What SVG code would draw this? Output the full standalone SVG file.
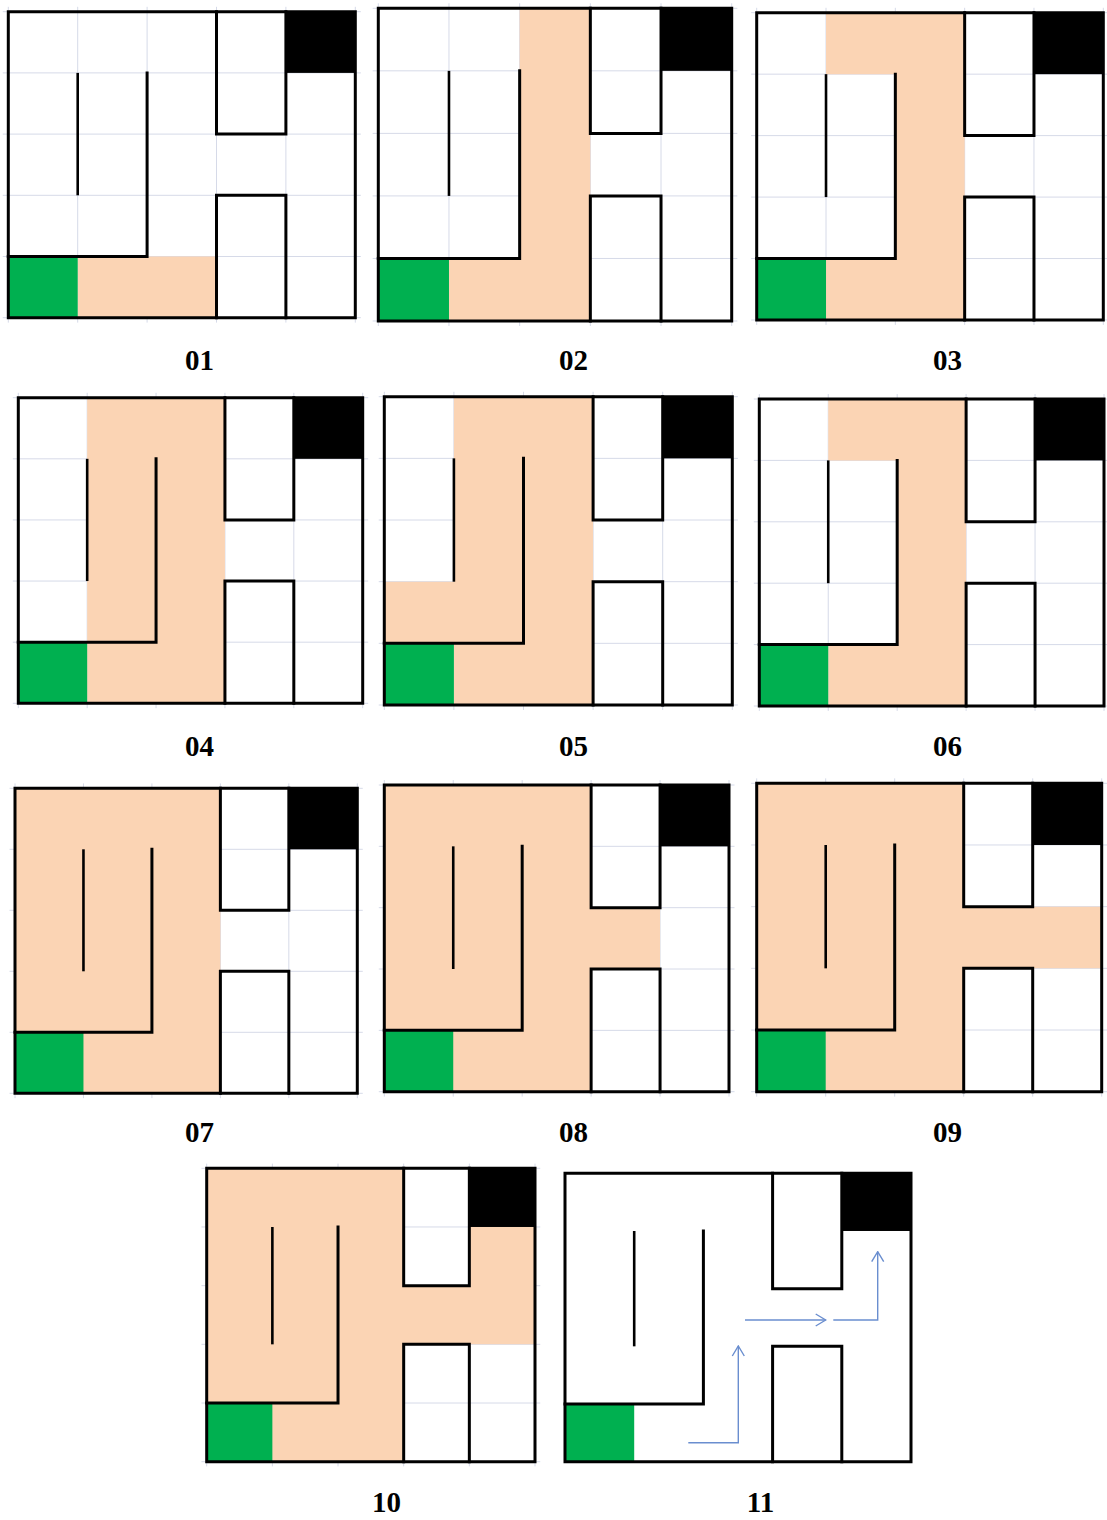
<svg xmlns="http://www.w3.org/2000/svg" xmlns:xlink="http://www.w3.org/1999/xlink" width="1107" height="1520" viewBox="0 0 1107 1520">
<style>
.grid line{stroke:#D6DAE8;stroke-width:1;vector-effect:non-scaling-stroke}
.wall{fill:none;stroke:#000;stroke-width:3;stroke-linejoin:miter;stroke-linecap:square;vector-effect:non-scaling-stroke}
.inner{fill:none;stroke:#000;stroke-width:2.6;stroke-linecap:butt;vector-effect:non-scaling-stroke}
.peach{fill:#FBD4B4}
.green{fill:#00B050}
.black{fill:#000}
.lbl{font-family:"Liberation Serif","Times New Roman",serif;font-weight:bold;font-size:29px;text-anchor:middle;fill:#000}
.arrow{fill:none;stroke:#6A8ECF;stroke-width:1.4;marker-end:url(#chev)}
</style>
<defs>
<marker id="chev" markerUnits="userSpaceOnUse" viewBox="0 0 12 14" refX="11" refY="7" markerWidth="12" markerHeight="14" orient="auto">
<path d="M1 1L11 7L1 13" fill="none" stroke="#6A8ECF" stroke-width="1.4"/>
</marker>
<g id="grid" class="grid">
<line x1="1" y1="-0.08" x2="1" y2="5.08"/><line x1="2" y1="-0.08" x2="2" y2="5.08"/><line x1="3" y1="-0.08" x2="3" y2="5.08"/><line x1="4" y1="-0.08" x2="4" y2="5.08"/>
<line x1="0" y1="-0.08" x2="0" y2="5.08"/><line x1="5" y1="-0.08" x2="5" y2="5.08"/>
<line x1="-0.08" y1="1" x2="5.08" y2="1"/><line x1="-0.08" y1="2" x2="5.08" y2="2"/><line x1="-0.08" y1="3" x2="5.08" y2="3"/><line x1="-0.08" y1="4" x2="5.08" y2="4"/>
<line x1="-0.08" y1="0" x2="5.08" y2="0"/><line x1="-0.08" y1="5" x2="5.08" y2="5"/>
</g>
<g id="cells">
<rect class="green" x="0" y="4" width="1" height="1"/>
<rect class="black" x="4" y="0" width="1" height="1"/>
</g>
<g id="walls">
<rect class="wall" x="0" y="0" width="5" height="5"/>
<path class="inner" d="M1 1V3"/>
<path class="wall" d="M2 1V4H0"/>
<path class="wall" d="M3 0V2H4V0"/>
<path class="wall" d="M3 5V3H4V5"/>
</g>
</defs>
<rect width="1107" height="1520" fill="#fff"/>

<g id="panel-01">
<g transform="translate(8.3 11.7) scale(69.4 61.2)">
<use xlink:href="#grid"/><path class="peach" d="M1 4H3V5H1Z"/><use xlink:href="#cells"/><use xlink:href="#walls"/>
</g>
<text class="lbl" x="199.5" y="369.5">01</text>
</g>

<g id="panel-02">
<g transform="translate(378.3 8.3) scale(70.68 62.54)">
<use xlink:href="#grid"/><path class="peach" d="M2 0H3V5H1V4H2Z"/><use xlink:href="#cells"/><use xlink:href="#walls"/>
</g>
<text class="lbl" x="573.5" y="369.5">02</text>
</g>

<g id="panel-03">
<g transform="translate(756.7 12.7) scale(69.32 61.46)">
<use xlink:href="#grid"/><path class="peach" d="M1 0H3V5H1V4H2V1H1Z"/><use xlink:href="#cells"/><use xlink:href="#walls"/>
</g>
<text class="lbl" x="947.5" y="369.5">03</text>
</g>

<g id="panel-04">
<g transform="translate(18.3 397.7) scale(68.88 61.12)">
<use xlink:href="#grid"/><path class="peach" d="M1 0H3V5H1Z"/><use xlink:href="#cells"/><use xlink:href="#walls"/>
</g>
<text class="lbl" x="199.5" y="755.5">04</text>
</g>

<g id="panel-05">
<g transform="translate(384.3 396.7) scale(69.6 61.66)">
<use xlink:href="#grid"/><path class="peach" d="M1 0H3V5H1V4H0V3H1Z"/><use xlink:href="#cells"/><use xlink:href="#walls"/>
</g>
<text class="lbl" x="573.5" y="755.5">05</text>
</g>

<g id="panel-06">
<g transform="translate(759.3 399) scale(68.94 61.4)">
<use xlink:href="#grid"/><path class="peach" d="M1 0H3V5H1V4H2V1H1Z"/><use xlink:href="#cells"/><use xlink:href="#walls"/>
</g>
<text class="lbl" x="947.5" y="755.5">06</text>
</g>

<g id="panel-07">
<g transform="translate(15 788.3) scale(68.46 61)">
<use xlink:href="#grid"/><path class="peach" d="M0 0H3V5H0Z"/><use xlink:href="#cells"/><use xlink:href="#walls"/>
</g>
<text class="lbl" x="199.5" y="1141.5">07</text>
</g>

<g id="panel-08">
<g transform="translate(384.3 785) scale(68.94 61.34)">
<use xlink:href="#grid"/><path class="peach" d="M0 0H3V2H4V3H3V5H0Z"/><use xlink:href="#cells"/><use xlink:href="#walls"/>
</g>
<text class="lbl" x="573.5" y="1141.5">08</text>
</g>

<g id="panel-09">
<g transform="translate(756.7 783.3) scale(69 61.68)">
<use xlink:href="#grid"/><path class="peach" d="M0 0H3V2H5V3H3V5H0Z"/><use xlink:href="#cells"/><use xlink:href="#walls"/>
</g>
<text class="lbl" x="947.5" y="1141.5">09</text>
</g>

<g id="panel-10">
<g transform="translate(206.7 1168.3) scale(65.66 58.68)">
<use xlink:href="#grid"/><path class="peach" d="M0 0H3V2H4V1H5V3H3V5H0Z"/><use xlink:href="#cells"/><use xlink:href="#walls"/>
</g>
<text class="lbl" x="386.5" y="1511.5">10</text>
</g>

<g id="panel-11">
<g transform="translate(565 1173.3) scale(69.2 57.68)">
<use xlink:href="#cells"/><use xlink:href="#walls"/>
</g>
<text class="lbl" x="760.5" y="1511.5">11</text>
</g>

<g id="connectors">
<path class="arrow" d="M688.3 1442.7H738.3V1346"/>
<path class="arrow" d="M745 1320H825.7"/>
<path class="arrow" d="M833.3 1320H877.7V1251.7"/>
</g>
</svg>
